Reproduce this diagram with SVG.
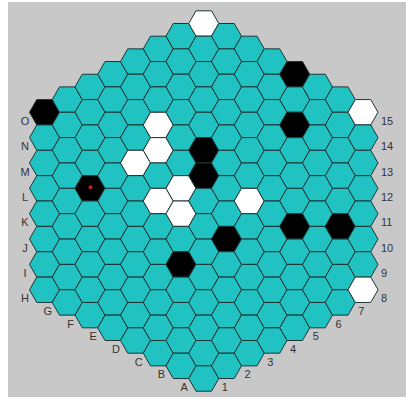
<svg xmlns="http://www.w3.org/2000/svg" width="406" height="397" viewBox="0 0 406 397">
<style>
.bg{fill:#c8c8c8}
use{fill:#20c2c2;stroke:#1e3535;stroke-width:1}
use.w{fill:#ffffff}
use.b{fill:#000000}
text{font-family:"Liberation Sans",Arial,sans-serif;font-size:11px;fill:#333333}
.l{text-anchor:middle}
.n{text-anchor:start}
</style>
<defs><path id="h" d="M-15,0 L-7.75,-12.68 L7.75,-12.68 L15,0 L7.75,12.68 L-7.75,12.68 Z"/></defs>
<rect width="406" height="397" fill="#ffffff"/>
<rect class="bg" x="8" y="2" width="398" height="395"/>
<g id="board">
<g id="col0" transform="translate(44.5 112.26)"><use href="#h" class="b"/><use href="#h" y="25.36"/><use href="#h" y="50.72"/><use href="#h" y="76.08"/><use href="#h" y="101.44"/><use href="#h" y="126.8"/><use href="#h" y="152.16"/><use href="#h" y="177.52"/></g>
<g id="col1" transform="translate(67.25 99.58)"><use href="#h"/><use href="#h" y="25.36"/><use href="#h" y="50.72"/><use href="#h" y="76.08"/><use href="#h" y="101.44"/><use href="#h" y="126.8"/><use href="#h" y="152.16"/><use href="#h" y="177.52"/><use href="#h" y="202.88"/></g>
<g id="col2" transform="translate(90 86.9)"><use href="#h"/><use href="#h" y="25.36"/><use href="#h" y="50.72"/><use href="#h" y="76.08"/><use href="#h" y="101.44" class="b"/><use href="#h" y="126.8"/><use href="#h" y="152.16"/><use href="#h" y="177.52"/><use href="#h" y="202.88"/><use href="#h" y="228.24"/><circle cx="0.5" cy="100.44" r="2" fill="#e01010"/></g>
<g id="col3" transform="translate(112.75 74.22)"><use href="#h"/><use href="#h" y="25.36"/><use href="#h" y="50.72"/><use href="#h" y="76.08"/><use href="#h" y="101.44"/><use href="#h" y="126.8"/><use href="#h" y="152.16"/><use href="#h" y="177.52"/><use href="#h" y="202.88"/><use href="#h" y="228.24"/><use href="#h" y="253.6"/></g>
<g id="col4" transform="translate(135.5 61.54)"><use href="#h"/><use href="#h" y="25.36"/><use href="#h" y="50.72"/><use href="#h" y="76.08"/><use href="#h" y="101.44" class="w"/><use href="#h" y="126.8"/><use href="#h" y="152.16"/><use href="#h" y="177.52"/><use href="#h" y="202.88"/><use href="#h" y="228.24"/><use href="#h" y="253.6"/><use href="#h" y="278.96"/></g>
<g id="col5" transform="translate(158.25 48.86)"><use href="#h"/><use href="#h" y="25.36"/><use href="#h" y="50.72"/><use href="#h" y="76.08" class="w"/><use href="#h" y="101.44" class="w"/><use href="#h" y="126.8"/><use href="#h" y="152.16" class="w"/><use href="#h" y="177.52"/><use href="#h" y="202.88"/><use href="#h" y="228.24"/><use href="#h" y="253.6"/><use href="#h" y="278.96"/><use href="#h" y="304.32"/></g>
<g id="col6" transform="translate(181 36.18)"><use href="#h"/><use href="#h" y="25.36"/><use href="#h" y="50.72"/><use href="#h" y="76.08"/><use href="#h" y="101.44"/><use href="#h" y="126.8"/><use href="#h" y="152.16" class="w"/><use href="#h" y="177.52" class="w"/><use href="#h" y="202.88"/><use href="#h" y="228.24" class="b"/><use href="#h" y="253.6"/><use href="#h" y="278.96"/><use href="#h" y="304.32"/><use href="#h" y="329.68"/></g>
<g id="col7" transform="translate(203.75 23.5)"><use href="#h" class="w"/><use href="#h" y="25.36"/><use href="#h" y="50.72"/><use href="#h" y="76.08"/><use href="#h" y="101.44"/><use href="#h" y="126.8" class="b"/><use href="#h" y="152.16" class="b"/><use href="#h" y="177.52"/><use href="#h" y="202.88"/><use href="#h" y="228.24"/><use href="#h" y="253.6"/><use href="#h" y="278.96"/><use href="#h" y="304.32"/><use href="#h" y="329.68"/><use href="#h" y="355.04"/></g>
<g id="col8" transform="translate(226.5 36.18)"><use href="#h"/><use href="#h" y="25.36"/><use href="#h" y="50.72"/><use href="#h" y="76.08"/><use href="#h" y="101.44"/><use href="#h" y="126.8"/><use href="#h" y="152.16"/><use href="#h" y="177.52"/><use href="#h" y="202.88" class="b"/><use href="#h" y="228.24"/><use href="#h" y="253.6"/><use href="#h" y="278.96"/><use href="#h" y="304.32"/><use href="#h" y="329.68"/></g>
<g id="col9" transform="translate(249.25 48.86)"><use href="#h"/><use href="#h" y="25.36"/><use href="#h" y="50.72"/><use href="#h" y="76.08"/><use href="#h" y="101.44"/><use href="#h" y="126.8"/><use href="#h" y="152.16" class="w"/><use href="#h" y="177.52"/><use href="#h" y="202.88"/><use href="#h" y="228.24"/><use href="#h" y="253.6"/><use href="#h" y="278.96"/><use href="#h" y="304.32"/></g>
<g id="col10" transform="translate(272 61.54)"><use href="#h"/><use href="#h" y="25.36"/><use href="#h" y="50.72"/><use href="#h" y="76.08"/><use href="#h" y="101.44"/><use href="#h" y="126.8"/><use href="#h" y="152.16"/><use href="#h" y="177.52"/><use href="#h" y="202.88"/><use href="#h" y="228.24"/><use href="#h" y="253.6"/><use href="#h" y="278.96"/></g>
<g id="col11" transform="translate(294.75 74.22)"><use href="#h" class="b"/><use href="#h" y="25.36"/><use href="#h" y="50.72" class="b"/><use href="#h" y="76.08"/><use href="#h" y="101.44"/><use href="#h" y="126.8"/><use href="#h" y="152.16" class="b"/><use href="#h" y="177.52"/><use href="#h" y="202.88"/><use href="#h" y="228.24"/><use href="#h" y="253.6"/></g>
<g id="col12" transform="translate(317.5 86.9)"><use href="#h"/><use href="#h" y="25.36"/><use href="#h" y="50.72"/><use href="#h" y="76.08"/><use href="#h" y="101.44"/><use href="#h" y="126.8"/><use href="#h" y="152.16"/><use href="#h" y="177.52"/><use href="#h" y="202.88"/><use href="#h" y="228.24"/></g>
<g id="col13" transform="translate(340.25 99.58)"><use href="#h"/><use href="#h" y="25.36"/><use href="#h" y="50.72"/><use href="#h" y="76.08"/><use href="#h" y="101.44"/><use href="#h" y="126.8" class="b"/><use href="#h" y="152.16"/><use href="#h" y="177.52"/><use href="#h" y="202.88"/></g>
<g id="col14" transform="translate(363 112.26)"><use href="#h" class="w"/><use href="#h" y="25.36"/><use href="#h" y="50.72"/><use href="#h" y="76.08"/><use href="#h" y="101.44"/><use href="#h" y="126.8"/><use href="#h" y="152.16"/><use href="#h" y="177.52" class="w"/></g>
</g>
<g id="labels-letters" class="l">
<text x="25" y="124.8">O</text>
<text x="25" y="150.1">N</text>
<text x="25" y="175.5">M</text>
<text x="25" y="200.8">L</text>
<text x="25" y="226.2">K</text>
<text x="25" y="251.6">J</text>
<text x="25" y="276.9">I</text>
<text x="25" y="302.3">H</text>
<text x="47.75" y="315">G</text>
<text x="70.5" y="327.6">F</text>
<text x="93.25" y="340.3">E</text>
<text x="116" y="353">D</text>
<text x="138.75" y="365.7">C</text>
<text x="161.5" y="378.4">B</text>
<text x="184.25" y="391">A</text>
</g>
<g id="labels-numbers" class="n">
<text x="221.75" y="391">1</text>
<text x="244.5" y="378.4">2</text>
<text x="267.25" y="365.7">3</text>
<text x="290" y="353">4</text>
<text x="312.75" y="340.3">5</text>
<text x="335.5" y="327.6">6</text>
<text x="358.25" y="315">7</text>
<text x="381" y="302.3">8</text>
<text x="381" y="276.9">9</text>
<text x="381" y="251.6">10</text>
<text x="381" y="226.2">11</text>
<text x="381" y="200.8">12</text>
<text x="381" y="175.5">13</text>
<text x="381" y="150.1">14</text>
<text x="381" y="124.8">15</text>
</g>
</svg>
